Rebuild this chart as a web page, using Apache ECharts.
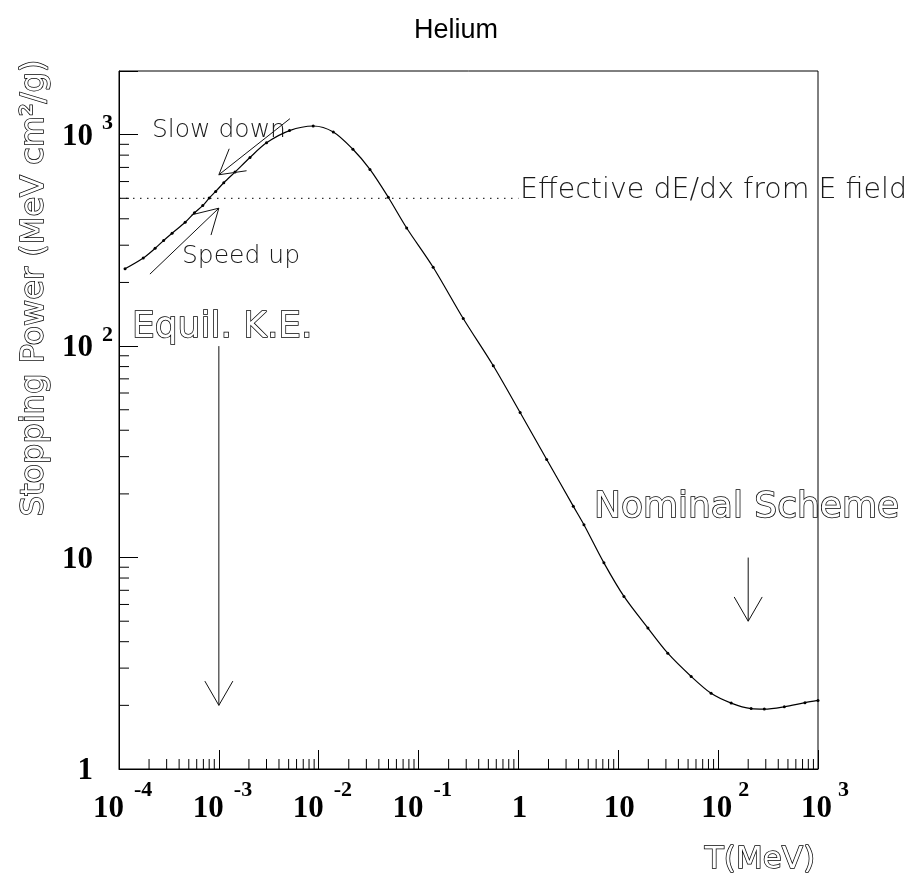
<!DOCTYPE html>
<html>
<head>
<meta charset="utf-8">
<title>Helium</title>
<script src="https://cdn.jsdelivr.net/npm/echarts@6/dist/echarts.min.js"></script>
<style>
    html, body { margin: 0; padding: 0; background: #fff; }
    #chart { width: 913px; height: 876px; }
</style>
</head>
<body>
<div id="chart"></div>
<script>
// kinetic energy T (MeV) and stopping power (MeV cm2/g)
var energies = [
    1.15e-4, 1.75e-4, 2.3e-4, 2.8e-4, 3.4e-4, 4.6e-4, 5.7e-4, 6.9e-4, 8.0e-4, 9.3e-4,
    1.12e-3, 1.45e-3, 2.05e-3, 3.0e-3, 5.1e-3, 8.8e-3, 0.014, 0.022, 0.0326, 0.0497,
    0.076, 0.14, 0.28, 0.56, 1.04, 1.92, 3.54, 4.53, 7.18, 11.4,
    19.8, 31.3, 53.7, 85, 135, 214, 290, 460, 740, 1000
];
var stoppingPower = [
    232, 261, 290, 316, 342, 385, 427, 462, 501, 539,
    592, 665, 780, 915, 1045, 1099, 1030, 853, 685, 506,
    362, 236, 135, 80.7, 48.5, 29.1, 17.5, 14.3, 9.44, 6.55,
    4.64, 3.53, 2.74, 2.28, 2.05, 1.93, 1.92, 1.97, 2.06, 2.11
];

// effective dE/dx from the E field (dotted line)
var fieldLevel = 500;
var fieldRange = [1e-4, 1];

// arrows: [T start, dE/dx start, T tip, dE/dx tip]
var arrows = [
    [5.15e-3, 1190, 1.0e-3, 646],   // slow down
    [2.04e-4, 219, 1.0e-3, 449],    // speed up
    [1e-3, 100, 1e-3, 2],           // equil. K.E.
    [200, 10, 200, 5]               // nominal scheme
];

var xRange = [1e-4, 1e3];
var yRange = [1, 2000];

// tick labels, ROOT style: mantissa plus raised exponent
var xTickValues = [1e-4, 1e-3, 1e-2, 1e-1, 1, 10, 100, 1000];
var xTickBases = ['10', '10', '10', '10', '1', '10', '10', '10'];
var xTickExps = ['-4', '-3', '-2', '-1', '', '', '2', '3'];
var yTickValues = [1, 10, 100, 1000];
var yTickBases = ['1', '10', '10', '10'];
var yTickExps = ['', '', '2', '3'];

// minor log ticks (2..9 in each decade)
var xMinor = [];
for (var d = -4; d < 3; d++) {
    for (var m = 2; m <= 9; m++) xMinor.push([m * Math.pow(10, d), yRange[0]]);
}
var yMinor = [];
for (var d2 = 0; d2 < 3; d2++) {
    for (var m2 = 2; m2 <= 9; m2++) yMinor.push([xRange[0], m2 * Math.pow(10, d2)]);
}

var serif = 'Liberation Serif';
var sans = 'DejaVu Sans';

function labelText(text, x, y, size, align) {
    return {
        type: 'text',
        x: x,
        y: y,
        style: {
            text: text,
            fontFamily: serif,
            fontWeight: 'bold',
            fontSize: size,
            fill: '#000',
            align: align,
            verticalAlign: 'middle'
        }
    };
}

function xLabelSeries() {
    return {
        type: 'custom',
        silent: true,
        data: xTickValues.map(function (v, i) { return [v, yRange[0], i]; }),
        z: 7,
        renderItem: function (params, api) {
            var i = api.value(2);
            var p = api.coord([api.value(0), api.value(1)]);
            var exp = xTickExps[i];
            if (!exp) {
                return labelText(xTickBases[i], p[0] + 1, p[1] + 40, 31, 'center');
            }
            var neg = exp.charAt(0) === '-';
            return {
                type: 'group',
                children: [
                    labelText(xTickBases[i], p[0] + (neg ? 5 : 14), p[1] + 40, 31, 'right'),
                    labelText(exp, p[0] + (neg ? 15 : 20), p[1] + 21, 22, 'left')
                ]
            };
        }
    };
}

function yLabelSeries() {
    return {
        type: 'custom',
        silent: true,
        data: yTickValues.map(function (v, i) { return [xRange[0], v, i]; }),
        z: 7,
        renderItem: function (params, api) {
            var i = api.value(2);
            var p = api.coord([api.value(0), api.value(1)]);
            var children = [labelText(yTickBases[i], p[0] - 26, p[1] + 2, 31, 'right')];
            if (yTickExps[i]) {
                children.push(labelText(yTickExps[i], p[0] - 17, p[1] - 11, 22, 'left'));
            }
            return { type: 'group', children: children };
        }
    };
}

function tickSeries(data, horizontal) {
    return {
        type: 'custom',
        silent: true,
        data: data,
        z: 5,
        renderItem: function (params, api) {
            var p = api.coord([api.value(0), api.value(1)]);
            return {
                type: 'line',
                shape: horizontal
                    ? { x1: p[0], y1: p[1], x2: p[0] + 10, y2: p[1] }
                    : { x1: p[0], y1: p[1], x2: p[0], y2: p[1] - 10 },
                style: { stroke: '#000', lineWidth: 1 }
            };
        }
    };
}

function outlined(text, x, y, size, align, extra) {
    var el = {
        type: 'text',
        x: x,
        y: y,
        style: {
            text: text,
            fontFamily: sans,
            fontSize: size,
            fill: '#fff',
            stroke: '#000',
            lineWidth: 1.5,
            align: align,
            verticalAlign: 'middle'
        }
    };
    if (extra) Object.assign(el, extra);
    return el;
}

function plain(text, x, y, size) {
    return {
        type: 'text',
        x: x,
        y: y,
        style: {
            text: text,
            fontFamily: sans,
            fontWeight: 200,
            fontSize: size,
            fill: '#1a1a1a',
            align: 'left',
            verticalAlign: 'middle'
        }
    };
}

var chart = echarts.init(document.getElementById('chart'));

var option = {
    animation: false,
    backgroundColor: '#fff',
    grid: {
        left: 119,
        top: 71,
        width: 699,
        height: 698,
        show: true,
        borderColor: '#000',
        borderWidth: 1,
        outerBoundsMode: 'none'
    },
    xAxis: {
        type: 'log',
        logBase: 10,
        min: xRange[0],
        max: xRange[1],
        splitLine: { show: false },
        axisLine: { lineStyle: { color: '#000', width: 1 } },
        axisTick: { inside: true, length: 19, lineStyle: { color: '#000', width: 1 } },
        axisLabel: { show: false }
    },
    yAxis: {
        type: 'log',
        logBase: 10,
        min: yRange[0],
        max: yRange[1],
        splitNumber: 3,
        splitLine: { show: false },
        axisLine: { lineStyle: { color: '#000', width: 1 } },
        axisTick: { inside: true, length: 19, lineStyle: { color: '#000', width: 1 } },
        axisLabel: { show: false }
    },
    series: [
        {
            type: 'line',
            data: energies.map(function (t, i) { return [t, stoppingPower[i]]; }),
            smooth: 0.3,
            symbol: 'circle',
            symbolSize: 3,
            showSymbol: true,
            itemStyle: { color: '#000' },
            lineStyle: { color: '#000', width: 1.2 },
            z: 4
        },
        {
            type: 'line',
            data: [[fieldRange[0], fieldLevel], [fieldRange[1], fieldLevel]],
            showSymbol: false,
            lineStyle: { color: '#000', width: 1, type: [1.5, 5.5] },
            z: 3
        },
        {
            type: 'custom',
            silent: true,
            data: arrows,
            z: 6,
            renderItem: function (params, api) {
                var a = api.coord([api.value(0), api.value(1)]);
                var b = api.coord([api.value(2), api.value(3)]);
                var ang = Math.atan2(a[1] - b[1], a[0] - b[0]);
                var len = 28, spread = Math.PI / 6;
                var h1 = [b[0] + len * Math.cos(ang + spread), b[1] + len * Math.sin(ang + spread)];
                var h2 = [b[0] + len * Math.cos(ang - spread), b[1] + len * Math.sin(ang - spread)];
                return {
                    type: 'group',
                    children: [
                        { type: 'line', shape: { x1: a[0], y1: a[1], x2: b[0], y2: b[1] }, style: { stroke: '#111', lineWidth: 1 } },
                        { type: 'polyline', shape: { points: [h1, b, h2] }, style: { stroke: '#111', lineWidth: 1, fill: null } }
                    ]
                };
            }
        },
        tickSeries(xMinor, false),
        tickSeries(yMinor, true),
        xLabelSeries(),
        yLabelSeries()
    ],
    graphic: [
        {
            type: 'text',
            x: 456,
            y: 31,
            style: {
                text: 'Helium',
                fontFamily: 'Liberation Sans',
                fontSize: 27,
                fill: '#000',
                align: 'center',
                verticalAlign: 'middle'
            }
        },
        plain('Slow down', 152, 130, 25),
        plain('Speed up', 182, 256, 25),
        plain('Effective dE/dx from E field', 520, 191, 28.5),
        outlined('Equil. K.E.', 132, 328, 36, 'left'),
        outlined('Nominal Scheme', 594, 508, 36, 'left'),
        outlined('T(MeV)', 815, 860, 31, 'right'),
        outlined('Stopping Power (MeV cm\u00b2/g)', 35, 288, 32, 'center', { rotation: Math.PI / 2 })
    ]
};

chart.setOption(option);
</script>
</body>
</html>
